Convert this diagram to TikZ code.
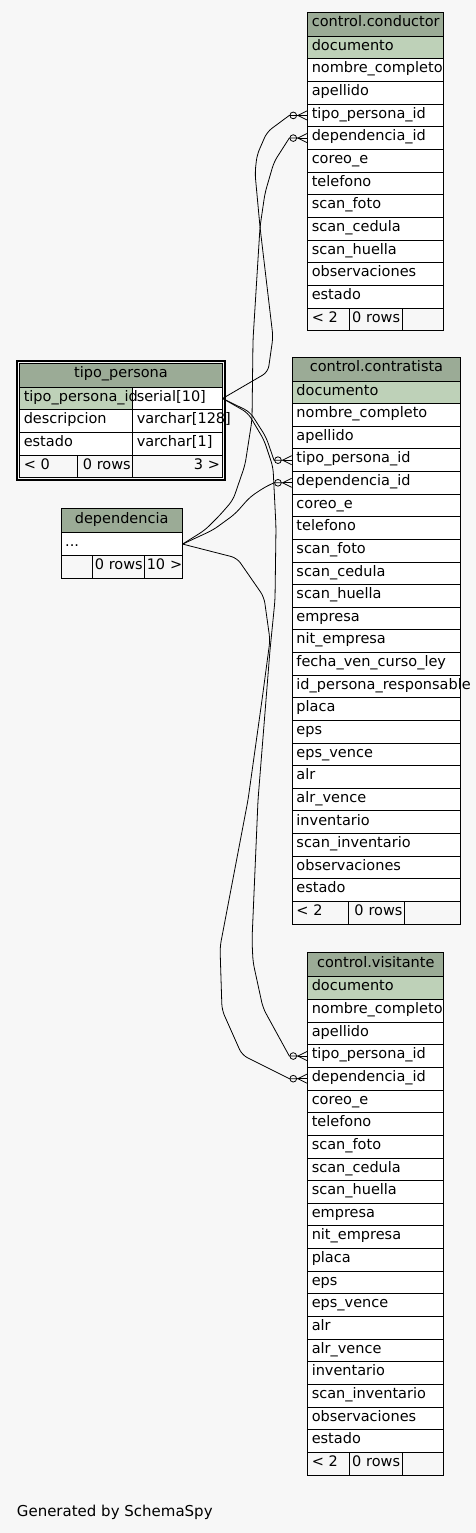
\documentclass[tikz,border=0pt]{standalone}
\usepackage{fontspec}
\setmainfont{DejaVu Sans}
\usepackage{tikz}
\usetikzlibrary{
  arrows.meta,
  positioning,
  fit,
  backgrounds,
}
\definecolor{canvasCol}{HTML}{F7F7F7}
\definecolor{headCol}{HTML}{9BAB96}
\definecolor{pkCol}{HTML}{BED1B8}
\newcommand{\tblfont}{\fontsize{14.5}{17}\selectfont\hyphenpenalty=10000 }
\tikzset{
  tblhead/.style={
    rectangle, draw=black, line width=0.9pt, fill=headCol, anchor=north west,
    inner xsep=0pt, inner ysep=0pt, minimum height=24pt, text height=10pt, text depth=4.5pt,
    align=center, font=\tblfont,
  },
  tblcell/.style={
    rectangle, draw=black, line width=0.9pt, fill=white, anchor=north west,
    inner xsep=4pt, inner ysep=0pt, minimum height=22.65pt, text height=10pt, text depth=4.5pt,
    align=left, font=\tblfont,
  },
  pkcell/.style={tblcell, fill=pkCol},
  footcell/.style={tblcell, fill=canvasCol},
  footright/.style={footcell, align=right, inner xsep=2pt},
  fkline/.style={
    -{Circle[open,length=7.5pt,width=7.5pt] Straight Barb[reversed,length=9pt,width=9pt]},
    line width=0.8pt, draw=black, rounded corners=6pt,
  },
}

\begin{document}
\begin{tikzpicture}[x=1pt, y=-1pt]

% control.conductor
\node[tblhead, text width=136pt] (cond-head) at (307.3, 11.7) {control.conductor};
\node[pkcell, text width=128pt] (cond-doc) at (307.3, 35.7) {documento};
\foreach \n/\lab [count=\i] in {nombre/nombre\_completo, apellido/apellido, tipo/tipo\_persona\_id,
    dep/dependencia\_id, correo/coreo\_e, tel/telefono, foto/scan\_foto, cedula/scan\_cedula,
    huella/scan\_huella, obs/observaciones, estado/estado}
  \node[tblcell, text width=128pt] (cond-\n) at (307.3, {35.7+\i*22.65}) {\lab};
\node[footcell, text width=34pt] (cond-f1) at (307.3, 307.5) {<~2};
\node[footright, text width=48.4pt] (cond-f2) at (349.3, 307.5) {0~rows};
\node[footcell, text width=33.6pt] (cond-f3) at (401.7, 307.5) {};

% control.contratista
\node[tblhead, text width=168pt] (contr-head) at (292, 356.5) {control.contratista};
\node[pkcell, text width=160pt] (contr-doc) at (292, 380.5) {documento};
\foreach \n/\lab [count=\i] in {nombre/nombre\_completo, apellido/apellido, tipo/tipo\_persona\_id,
    dep/dependencia\_id, correo/coreo\_e, tel/telefono, foto/scan\_foto, cedula/scan\_cedula,
    huella/scan\_huella, empresa/empresa, nit/nit\_empresa, curso/fecha\_ven\_curso\_ley,
    resp/id\_persona\_responsable, placa/placa, eps/eps, epsv/eps\_vence, alr/alr,
    alrv/alr\_vence, inv/inventario, scaninv/scan\_inventario, obs/observaciones, estado/estado}
  \node[tblcell, text width=160pt] (contr-\n) at (292, {380.5+\i*22.63}) {\lab};
\node[footcell, text width=48.3pt] (contr-f1) at (292, 901) {<~2};
\node[footright, text width=51.7pt] (contr-f2) at (348.3, 901) {0~rows};
\node[footcell, text width=48pt] (contr-f3) at (404, 901) {};

% control.visitante
\node[tblhead, text width=136pt] (visit-head) at (307.3, 952.3) {control.visitante};
\node[pkcell, text width=128pt] (visit-doc) at (307.3, 976.3) {documento};
\foreach \n/\lab [count=\i] in {nombre/nombre\_completo, apellido/apellido, tipo/tipo\_persona\_id,
    dep/dependencia\_id, correo/coreo\_e, tel/telefono, foto/scan\_foto, cedula/scan\_cedula,
    huella/scan\_huella, empresa/empresa, nit/nit\_empresa, placa/placa, eps/eps,
    epsv/eps\_vence, alr/alr, alrv/alr\_vence, inv/inventario, scaninv/scan\_inventario,
    obs/observaciones, estado/estado}
  \node[tblcell, text width=128pt] (visit-\n) at (307.3, {976.3+\i*22.65}) {\lab};
\node[footcell, text width=34pt] (visit-f1) at (307.3, 1451.95) {<~2};
\node[footright, text width=48.4pt] (visit-f2) at (349.3, 1451.95) {0~rows};
\node[footcell, text width=33.6pt] (visit-f3) at (401.7, 1451.95) {};

% tipo_persona
\node[tblhead, text width=202.4pt] (tp-head) at (19.3, 362.7) {tipo\_persona};
\node[tblcell, text width=81.4pt] (tp-type) at (132.3, 386.7) {serial[10]};
\node[pkcell, text width=105pt] (tp-pk) at (19.3, 386.7) {tipo\_persona\_id};
\node[tblcell, text width=105pt] (tp-desc) at (19.3, 409.35) {descripcion};
\node[tblcell, text width=81.4pt] (tp-desctype) at (132.3, 409.35) {varchar[128]};
\node[tblcell, text width=105pt] (tp-estado) at (19.3, 432) {estado};
\node[tblcell, text width=81.4pt] (tp-estadotype) at (132.3, 432) {varchar[1]};
\node[footcell, text width=49.4pt] (tp-f1) at (19.3, 454.65) {<~0};
\node[footright, text width=51.6pt] (tp-f2) at (76.7, 454.65) {0~rows};
\node[footright, text width=85.4pt] (tp-f3) at (132.3, 454.65) {3~>};

% dependencia
\node[tblhead, text width=121pt] (dep-head) at (60.7, 508.3) {dependencia};
\node[tblcell, text width=113pt] (dep-row) at (60.7, 532.3) {...};
\node[footcell, text width=23.6pt] (dep-f1) at (60.7, 554.95) {};
\node[footright, text width=48pt] (dep-f2) at (92.3, 554.95) {0~rows};
\node[footright, text width=33.4pt] (dep-f3) at (144.3, 554.95) {10~>};

% Footer note
\node[anchor=base west, inner sep=0pt, font=\fontsize{15}{18}\selectfont] (gen-note) at (16.7, 1516.7) {Generated by SchemaSpy};

% tipo_persona -> control tables
\draw[fkline] (tp-type.east) -- (268,372) -- (273,337) -- (260,227) -- (255,173) -- (257,155) -- (267,132)
  [sharp corners] -- ([xshift=-18pt]cond-tipo.west) -- (cond-tipo.west);
\draw[fkline] (tp-type.east) -- (250,412) -- (266,437)
  [sharp corners] -- ([xshift=-18pt]contr-tipo.west) -- (contr-tipo.west);
\draw[fkline] (tp-type.east) -- (248,413) -- (264,440) -- (273,467) -- (276,527) -- (275,600) -- (270,650)
  -- (258,800) -- (252,940) -- (253,962) -- (263,1008)
  [sharp corners] -- ([xshift=-18pt]visit-tipo.west) -- (visit-tipo.west);

% dependencia -> control tables
\draw[fkline] (dep-row.east) -- (205,530) -- (220,515) -- (233,500) -- (245,465) -- (252,420) -- (253,340)
  -- (260,227) -- (265,193) -- (274,162)
  [sharp corners] -- ([xshift=-18pt]cond-dep.west) -- (cond-dep.west);
\draw[fkline] (dep-row.east) -- (213,530) -- (235,514) -- (250,497) -- (265,487)
  [sharp corners] -- ([xshift=-18pt]contr-dep.west) -- (contr-dep.west);
\draw[fkline] (dep-row.east) -- (237,558) -- (264,597) -- (270,640) -- (262,700) -- (248,800) -- (220,947)
  -- (222,1010) -- (242,1055)
  [sharp corners] -- ([xshift=-18pt]visit-dep.west) -- (visit-dep.west);

% Crow's foot middle lines
\foreach \t in {cond-tipo, cond-dep, contr-tipo, contr-dep, visit-tipo, visit-dep}
  \draw[line width=0.8pt] (\t.west) -- ++(-9pt, 0);

\begin{scope}[on background layer]
  \fill[canvasCol] (0,0) rectangle (476,1533);
  \node[draw=black, line width=2pt, inner sep=2.1pt, fit=(tp-head)(tp-f1)(tp-f3)] (tp-frame) {};
\end{scope}

\end{tikzpicture}
\end{document}
